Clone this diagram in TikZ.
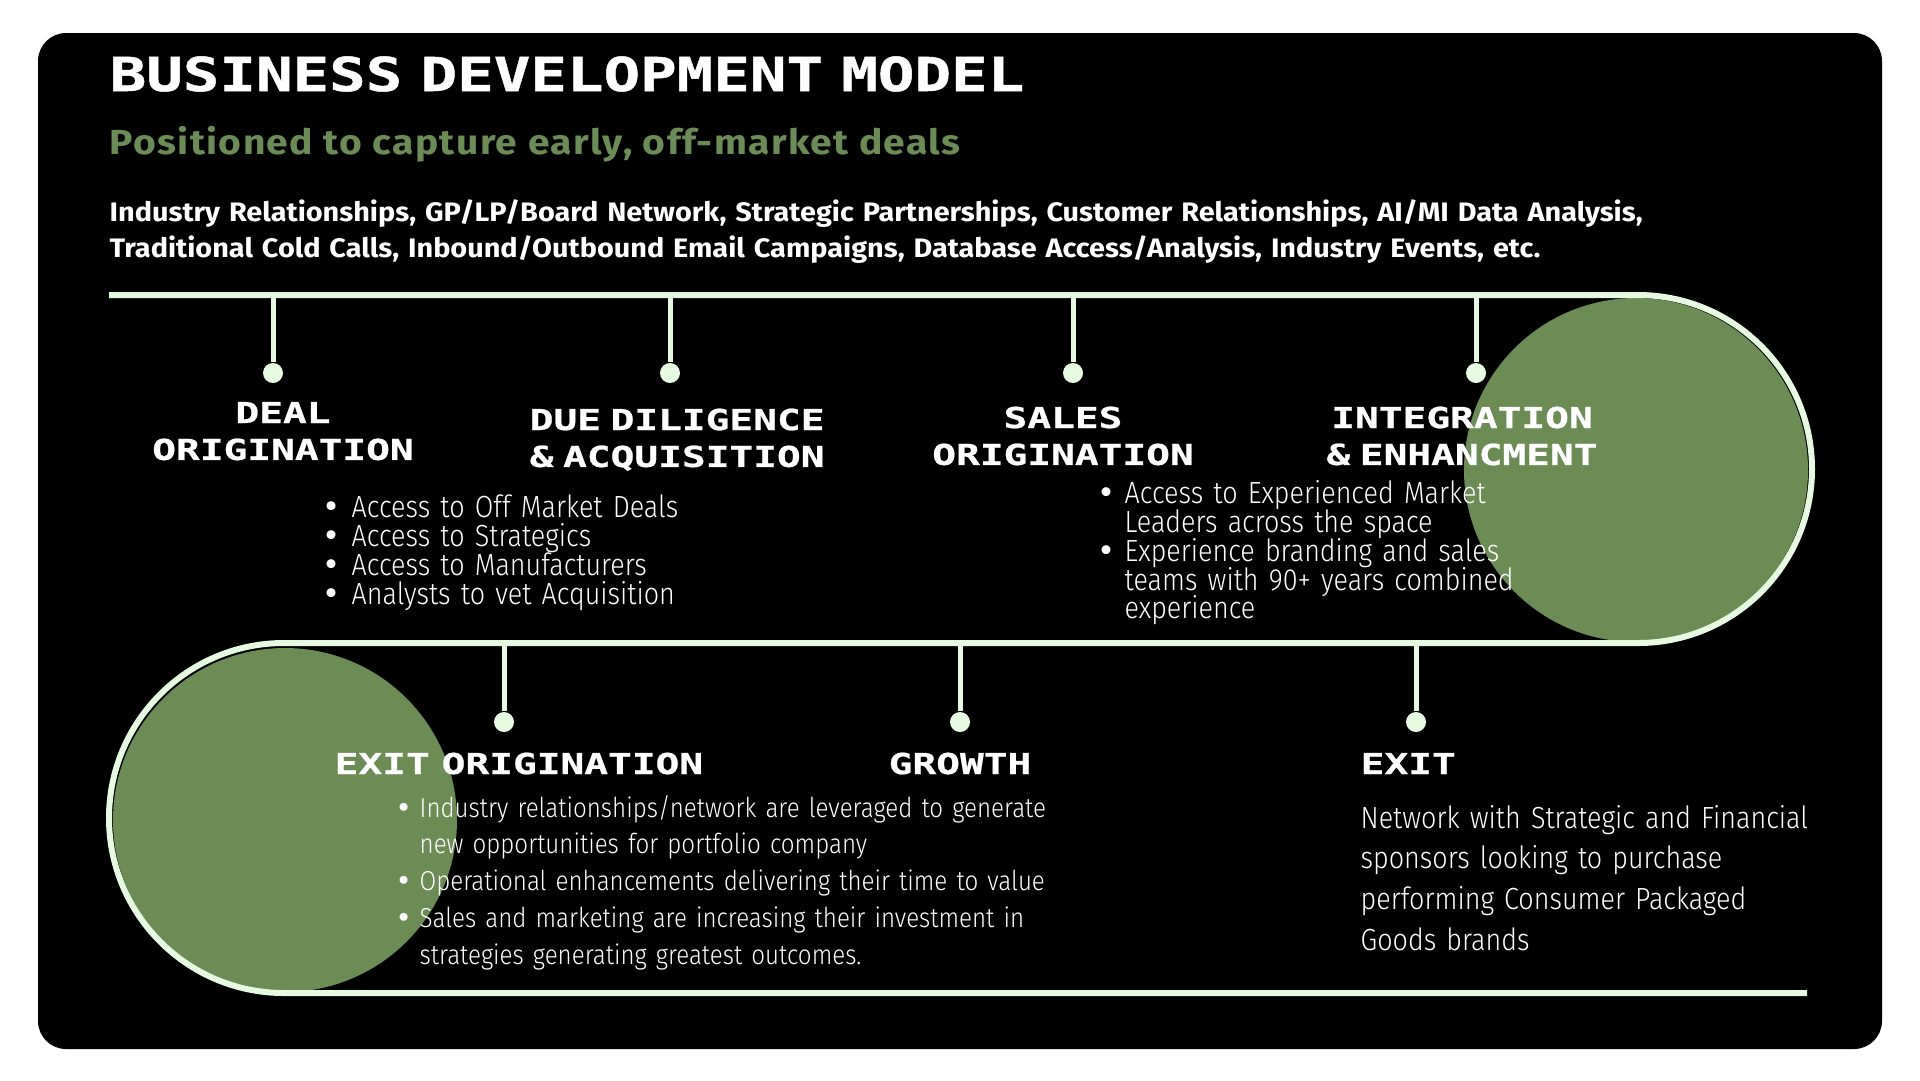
\documentclass[tikz,border=0pt]{standalone}
\usepackage{fontspec}
\usepackage{xcolor}
\setmainfont{Fira Sans}
\newfontfamily\titlefont[FakeStretch=1.3, FakeBold=1, WordSpace=0.5]{DejaVu Sans Mono}
\newfontfamily\headfont[FakeStretch=1.37, FakeBold=0.8, WordSpace=0.5]{DejaVu Sans Mono}
\newfontfamily\subfont[FakeStretch=1.12, LetterSpace=4]{Fira Sans}
\newfontfamily\parafont[FakeStretch=1.08]{Fira Sans}
\newfontfamily\bodyfont[FakeStretch=0.88]{Fira Sans Light}
\newfontfamily\dotfont{DejaVu Sans}
\usepackage{tikz}

\definecolor{mint}{RGB}{230,250,226}
\definecolor{sage}{RGB}{107,140,85}

\newcommand{\bul}[1]{\makebox[#1][l]{\dotfont•}}
\newcommand{\tightlines}{\lineskiplimit=-5pt\relax}

\tikzset{
    rail/.style={draw=mint, line width=0.6mm},
    stem/.style={draw=mint, line width=0.5mm},
    dot/.style={circle, fill=mint, inner sep=0pt, minimum size=2mm},
    heading/.style={text=white, inner sep=0pt, font=\headfont\bfseries\fontsize{8.2}{10.5}\selectfont},
    blist/.style={text=white, inner sep=0pt, anchor=base west, align=left, text width=60mm}
}

\begin{document}
\begin{tikzpicture}[x=0.1mm, y=-0.1mm]
    \useasboundingbox (0,0) rectangle (1920,1080);
    \fill[white] (0,0) rectangle (1920,1080);
    \fill[black, rounded corners=2.8mm] (38,33) rectangle (1882,1049);

    % Header
    \node[anchor=base west, inner sep=0pt, text=white,
          font=\titlefont\bfseries\fontsize{13.3}{16}\selectfont] (title) at (109,91)
        {BUSINESS DEVELOPMENT MODEL};
    \node[anchor=base west, inner sep=0pt, text=sage,
          font=\subfont\bfseries\fontsize{9.9}{12}\selectfont] (subtitle) at (109,154)
        {Positioned to capture early, off-market deals};
    \node[anchor=base west, inner sep=0pt, text=white, align=left, text width=180mm,
          font=\parafont\bfseries\fontsize{7.6}{10.5}\selectfont] (channels) at (109,221)
        {Industry Relationships, GP/LP/Board Network, Strategic Partnerships, Customer Relationships, AI/MI Data Analysis,\\
         Traditional Cold Calls, Inbound/Outbound Email Campaigns, Database Access/Analysis, Industry Events, etc.};

    % Green circles
    \fill[sage] (1636,470) circle[radius=172];
    \fill[sage] (285,820) circle[radius=172];

    % Rail
    \draw[rail] (109,295) -- (1638,295) arc[start angle=-90, end angle=90, radius=174]
        -- (284,643) arc[start angle=-90, end angle=-270, radius=175] -- (1807,993);

    % Stems and dots
    \foreach \n/\x in {deal/273, due/670, sales/1073, integ/1476} {
        \coordinate (r\n) at (\x,295);
        \node[dot] (\n) at (\x,373) {};
        \draw[stem] (r\n) -- (\n);
    }
    \foreach \n/\x in {exitorig/504, growth/960, exit/1416} {
        \coordinate (r\n) at (\x,643);
        \node[dot] (\n) at (\x,722) {};
        \draw[stem] (r\n) -- (\n);
    }

    % Stage headings
    \node[heading, anchor=base, align=center, text width=45mm] (hdeal) at (283,423) {DEAL\\ORIGINATION};
    \node[heading, anchor=base west, align=left, text width=45mm] (hdue) at (529,430) {DUE DILIGENCE\\\& ACQUISITION};
    \node[heading, anchor=base, align=center, text width=45mm] (hsales) at (1063,428) {SALES\\ORIGINATION};
    \node[heading, anchor=base, align=center, text width=45mm] (hinteg) at (1462,428) {INTEGRATION\\\& ENHANCMENT};
    \node[heading, anchor=base west] (hexitorig) at (334,774) {EXIT ORIGINATION};
    \node[heading, anchor=base] (hgrowth) at (960,774) {GROWTH};
    \node[heading, anchor=base west] (hexit) at (1360,774) {EXIT};

    % Stage details
    \node[blist, font=\bodyfont\fontsize{8.7}{8.25}\selectfont\tightlines] (ldeal) at (322,517)
        {\bul{2.9mm}Access to Off Market Deals\\
         \bul{2.9mm}Access to Strategics\\
         \bul{2.9mm}Access to Manufacturers\\
         \bul{2.9mm}Analysts to vet Acquisition};
    \node[blist, font=\bodyfont\fontsize{8.7}{8.25}\selectfont\tightlines] (lsales) at (1097,503)
        {\bul{2.7mm}Access to Experienced Market\\
         \hspace*{2.7mm}Leaders across the space\\
         \bul{2.7mm}Experience branding and sales\\
         \hspace*{2.7mm}teams with 90+ years combined\\
         \hspace*{2.7mm}experience};
    \node[blist, text width=80mm, font=\bodyfont\fontsize{7.8}{10.5}\selectfont] (lexitorig) at (395,817)
        {\bul{2.4mm}Industry relationships/network are leveraged to generate\\
         \hspace*{2.4mm}new opportunities for portfolio company\\
         \bul{2.4mm}Operational enhancements delivering their time to value\\
         \bul{2.4mm}Sales and marketing are increasing their investment in\\
         \hspace*{2.4mm}strategies generating greatest outcomes.};
    \node[blist, font=\bodyfont\fontsize{8.7}{11.6}\selectfont] (texit) at (1360,828)
        {Network with Strategic and Financial\\
         sponsors looking to purchase\\
         performing Consumer Packaged\\
         Goods brands};
\end{tikzpicture}
\end{document}
